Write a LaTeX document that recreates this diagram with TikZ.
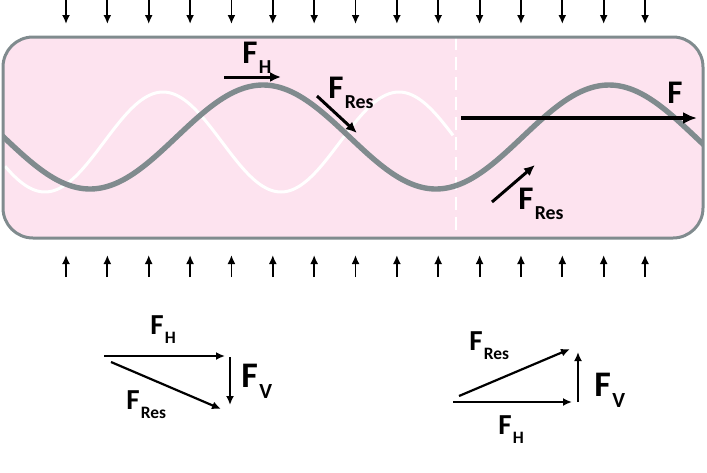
\documentclass[tikz,border=0pt]{standalone}
\usepackage{fontspec}
\setmainfont{Carlito}
\usetikzlibrary{arrows.meta}
\definecolor{tubepink}{HTML}{FDE3EF}
\definecolor{tubegray}{HTML}{808B8E}
\newcommand{\Fsub}[1]{F\kern0.04em\raisebox{-0.33em}{\scalebox{0.6}{#1}}}

\begin{document}
\begin{tikzpicture}[x=0.5pt,y=-0.5pt,
    press/.style={line width=0.9pt,-{Latex[length=4.5pt,width=4pt]}},
    force/.style={line width=1.5pt,-{Latex[length=5.5pt,width=5pt]}},
    vec/.style={line width=1.1pt,-{Latex[length=4.5pt,width=4pt]}},
    lbl/.style={anchor=base west,inner sep=0pt,font=\fontsize{16.5}{18}\selectfont\bfseries},
    vlbl/.style={anchor=base west,inner sep=0pt,font=\fontsize{14.5}{17}\selectfont\bfseries}]
  \useasboundingbox (0,0) rectangle (707,472);
  \foreach \i in {0,...,14}{
    \draw[press] ({66+41.36*\i},0) -- ++(0,24);
    \draw[press] ({66+41.36*\i},277) -- ++(0,-22);
  }
  \begin{scope}
    \clip[rounded corners=15pt] (3,37) rectangle (703,238);
    \fill[tubepink] (3,37) rectangle (703,238);
    \draw[white,line width=1pt,dash pattern=on 6.5pt off 3.5pt] (456,37) -- (456,238);
    \draw[white,line width=1.5pt] plot[domain=5:453,samples=100,smooth] (\x,{142+50*cos(1.5254*(\x-45))});
    \draw[tubegray,line width=2.7pt] plot[domain=0:707,samples=120,smooth] (\x,{137+52*cos(1.0405*(\x-90))});
  \end{scope}
  \draw[tubegray,line width=1.5pt,rounded corners=15pt] (3,37) rectangle (703,238);

  \coordinate (th1) at (224,77);
  \coordinate (th2) at (281,77);
  \coordinate (tr1) at (317,96);
  \coordinate (tr2) at (357,133);
  \coordinate (tf1) at (461,118);
  \coordinate (tf2) at (697,118);
  \coordinate (br1) at (492,202);
  \coordinate (br2) at (535,165);
  \draw[force] (th1) -- (th2);
  \draw[force] (tr1) -- (tr2);
  \draw[force,line width=2.2pt,-{Latex[length=7pt,width=6pt]}] (tf1) -- (tf2);
  \draw[force] (br1) -- (br2);
  \node[lbl] (thl) at (242,63) {\Fsub{H}};
  \node[lbl] (trl) at (328,98) {\Fsub{Res}};
  \node[lbl] (tfl) at (667,103) {F};
  \node[lbl] (brl) at (518,209) {\Fsub{Res}};

  \coordinate (lh1) at (104,356);
  \coordinate (lh2) at (225,356);
  \coordinate (lr1) at (111,362);
  \coordinate (lr2) at (221,409);
  \coordinate (lv1) at (230,357);
  \coordinate (lv2) at (230,405);
  \draw[vec] (lh1) -- (lh2);
  \draw[vec] (lr1) -- (lr2);
  \draw[vec] (lv1) -- (lv2);
  \node[vlbl] (lhl) at (150,334) {\Fsub{H}};
  \node[lbl,font=\fontsize{18}{20}\selectfont\bfseries] (lvl) at (241,387) {\Fsub{V}};
  \node[vlbl] (lrl) at (126,409) {\Fsub{Res}};

  \coordinate (rh1) at (453,402);
  \coordinate (rh2) at (572,402);
  \coordinate (rr1) at (459,396);
  \coordinate (rr2) at (570,349);
  \coordinate (rv1) at (578,402);
  \coordinate (rv2) at (578,352);
  \draw[vec] (rh1) -- (rh2);
  \draw[vec] (rr1) -- (rr2);
  \draw[vec] (rv1) -- (rv2);
  \node[vlbl] (rrl) at (469,350) {\Fsub{Res}};
  \node[lbl,font=\fontsize{18}{20}\selectfont\bfseries] (rvl) at (594,396) {\Fsub{V}};
  \node[vlbl] (rhl) at (498,434) {\Fsub{H}};
\end{tikzpicture}
\end{document}
